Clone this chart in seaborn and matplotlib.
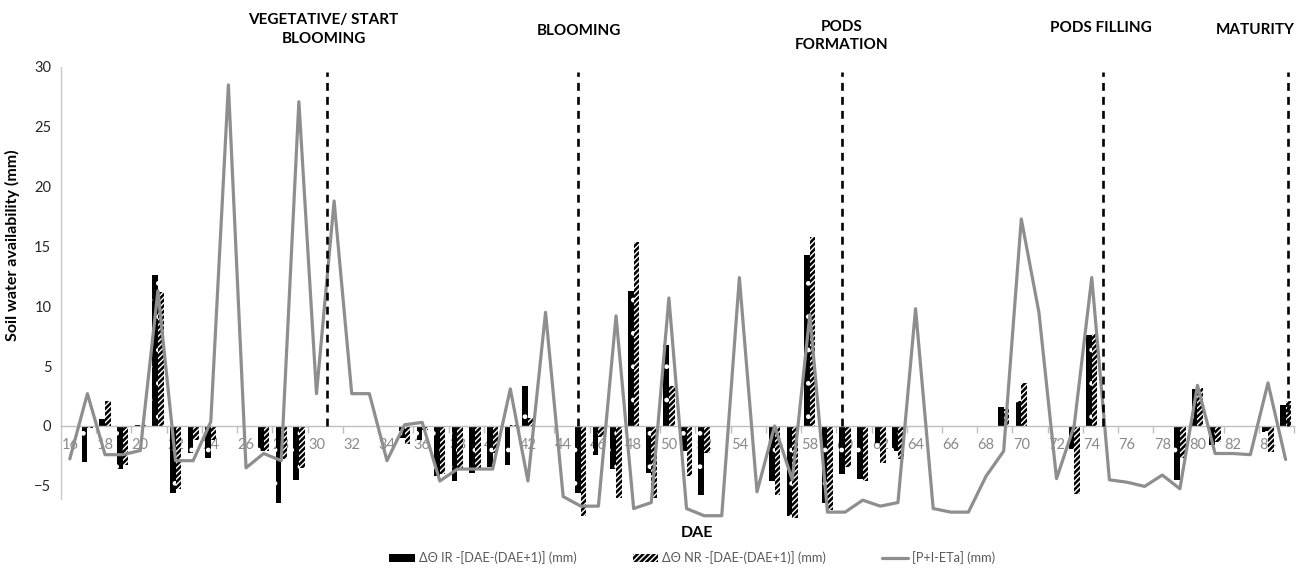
import numpy as np
import pandas as pd
import matplotlib
matplotlib.use("Agg")
import matplotlib.pyplot as plt
import matplotlib.transforms as mtransforms
from matplotlib.patches import Patch
from matplotlib.lines import Line2D
import seaborn as sns

nan = np.nan
days = list(range(16, 86))

ir_vals = [nan, -3.0, 0.6, -3.6, 0.1, 12.6, -5.6, -2.3, -2.7, nan,
           nan, -2.05, -6.4, -4.5, nan, nan, nan, nan, nan, -1.0,
           -1.2, -4.2, -4.6, -3.9, -3.4, -3.3, 3.3, nan, nan, -5.6,
           -2.4, -3.6, 11.3, -3.9, 6.8, -2.1, -5.8, nan, nan, nan,
           -4.6, -7.5, 14.25, -6.4, -4.0, -4.4, -1.4, -2.1, nan, nan,
           nan, nan, nan, 1.55, 2.1, nan, nan, -1.9, 7.6, nan,
           nan, nan, nan, -4.5, 3.05, -1.6, nan, nan, -0.5, 1.75]

nr_vals = [nan, -0.2, 2.1, -3.3, 0.1, 11.2, -5.3, -1.2, -1.2, nan,
           nan, -2.05, -2.8, -3.5, nan, nan, nan, nan, nan, -1.5,
           -0.3, -4.0, -3.5, -3.7, -2.3, 0.05, 0.7, nan, nan, -7.5,
           -0.95, -6.0, 15.4, -6.0, 3.3, -4.2, -2.3, nan, nan, nan,
           -5.8, -7.7, 15.8, -7.05, -3.4, -4.6, -3.1, -2.8, nan, nan,
           nan, nan, nan, 1.4, 3.55, nan, nan, -5.65, 7.65, nan,
           nan, nan, nan, -2.7, 3.2, -1.3, nan, nan, -2.2, 2.1]

pie_vals = [-2.75, 2.7, -2.4, -2.4, -2.05, 11.3, -2.9, -2.9, 0.35, 28.5,
            -3.5, -2.3, -2.9, 27.1, 2.7, 18.8, 2.7, 2.7, -2.9, 0.1,
            0.3, -4.6, -3.6, -3.6, -3.6, 3.1, -4.6, 9.5, -5.9, -6.7,
            -6.7, 9.2, -6.9, -6.4, 10.7, -6.9, -7.5, -7.5, 12.4, -5.5,
            0.0, -4.5, 9.3, -7.2, -7.2, -6.2, -6.7, -6.4, 9.8, -6.9,
            -7.2, -7.2, -4.2, -2.1, 17.3, 9.5, -4.4, 0.0, 12.4, -4.5,
            -4.7, -5.05, -4.1, -5.25, 3.4, -2.3, -2.3, -2.4, 3.6, -2.8]

stage_names = ["VEGETATIVE/ START\nBLOOMING", "BLOOMING", "PODS\nFORMATION",
               "PODS FILLING", "MATURITY"]
stage_days = [30.57, 44.85, 59.83, 74.64, 85.14]
stage_label_days = [30.4, 44.9, 59.8, 74.5, 83.3]

series_labels = ["ΔΘ IR -[DAE-(DAE+1)] (mm)", "ΔΘ NR -[DAE-(DAE+1)] (mm)", "[P+I-ETa] (mm)"]

sns.set_style("white")
plt.rcParams["font.family"] = ["Lato", "DejaVu Sans"]
plt.rcParams["hatch.linewidth"] = 1.0

fig = plt.figure(figsize=(13.01, 5.68), dpi=100)
ax = fig.add_axes([61 / 1301, 1 - 521.7 / 568, 1233.4 / 1301, (521.7 - 61) / 568])

rows = []
for d, a, b in zip(days, ir_vals, nr_vals):
    if not np.isnan(a):
        rows.append({"day": d, "series": "IR", "value": a})
    if not np.isnan(b):
        rows.append({"day": d, "series": "NR", "value": b})
df = pd.DataFrame(rows)

sns.barplot(data=df, x="day", y="value", hue="series", order=days,
            hue_order=["IR", "NR"], palette={"IR": "black", "NR": "black"},
            saturation=1, width=0.64, errorbar=None, legend=False, ax=ax)

for ci, cont in enumerate(ax.containers):
    for p in cont:
        p.set_edgecolor("white")
        p.set_linewidth(0)
        p.set_hatch("." if ci == 0 else "//////")

idx = np.arange(len(days))
sns.lineplot(x=idx, y=pie_vals, color="#8e8e8e", linewidth=2.3, ax=ax, zorder=5)

# stage boundary lines
for sd in stage_days:
    xi = sd - days[0]
    ax.vlines(xi, 0, 29.6, colors="black", linewidth=1.9,
              linestyles=(0, (3.0, 2.3)), zorder=6)

trans = mtransforms.blended_transform_factory(ax.transData, fig.transFigure)
stage_y = [1 - 29.5 / 568, 1 - 31 / 568, 1 - 36 / 568, 1 - 28 / 568, 1 - 30 / 568]
for name, ld, yy in zip(stage_names, stage_label_days, stage_y):
    ax.text(ld - days[0], yy, name, transform=trans, ha="center", va="center",
            fontsize=11, fontweight="bold", color="black", linespacing=1.45)

ax.set_xlim(-0.5, len(days) - 0.5)
ax.set_ylim(-8.0, 30.5)

ax.spines["top"].set_visible(False)
ax.spines["right"].set_visible(False)
ax.spines["bottom"].set_position(("data", 0))
ax.spines["bottom"].set_color("#bfbfbf")
ax.spines["bottom"].set_linewidth(1.0)
ax.spines["left"].set_color("#c8c8c8")
ax.spines["left"].set_linewidth(1.0)
ax.spines["left"].set_bounds(-6.1, 30)

ax.set_xticks(idx[::2])
ax.set_xticklabels([str(d) for d in days[::2]])
ax.set_xticks(np.arange(1.5, len(days), 2), minor=True)
ax.tick_params(axis="x", which="major", length=0, pad=9, labelsize=10.5,
               labelcolor="#8a8a8a")
ax.tick_params(axis="x", which="minor", length=5, width=1, color="#bfbfbf",
               direction="out", bottom=True)
ax.set_yticks([-5, 0, 5, 10, 15, 20, 25, 30])
ax.tick_params(axis="y", length=0, pad=7, labelsize=10.5, labelcolor="#262626")
ax.set_xlabel("")
ax.set_ylabel("Soil water availability (mm)", fontsize=11.5, fontweight="bold",
              color="black")
ax.yaxis.set_label_coords(-0.033, 0.60)

fig.text(697 / 1301, 1 - 533 / 568, "DAE", ha="center", va="center",
         fontsize=11.5, fontweight="bold", color="black", zorder=10)

handles = [Patch(facecolor="black", edgecolor="white", linewidth=0, hatch="."),
           Patch(facecolor="black", edgecolor="white", linewidth=0, hatch="//////"),
           Line2D([0], [0], color="#8e8e8e", linewidth=2.3)]
fig.legend(handles, series_labels, loc="center", ncol=3, frameon=False,
           bbox_to_anchor=(0.532, 1 - 558 / 568), fontsize=9.2,
           labelcolor="#595959", handlelength=2.0, handleheight=0.7,
           handletextpad=0.3, columnspacing=4.4)

fig.savefig("out.png", dpi=100)
